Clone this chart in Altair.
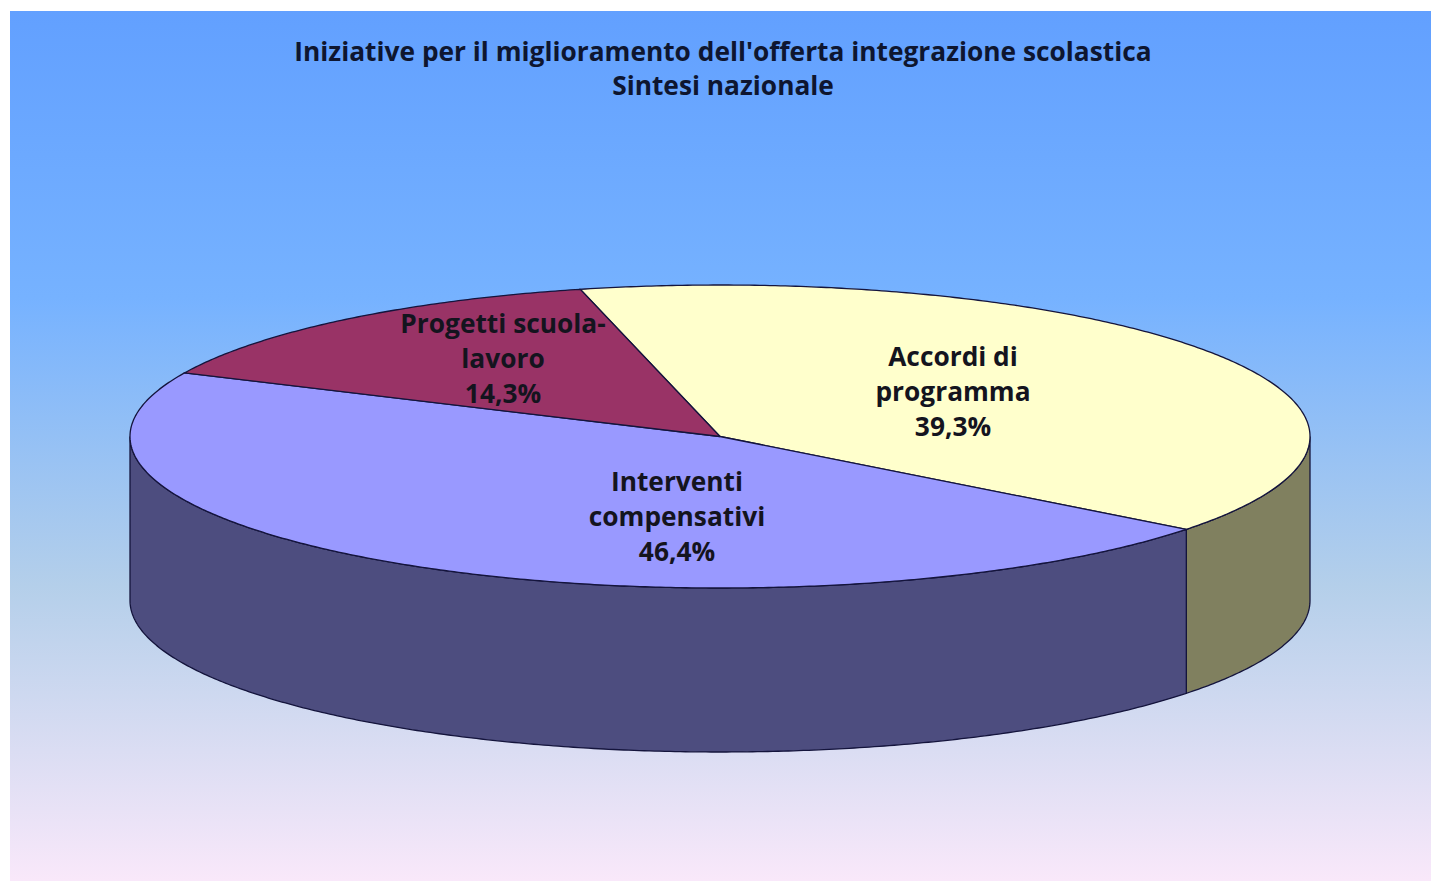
import math
import altair as alt
import pandas as pd

# Survey shares, in percent
categories = ["Accordi di programma", "Interventi compensativi", "Progetti scuola-lavoro"]
shares = [39.3, 46.4, 14.3]
share_labels = ["39,3%", "46,4%", "14,3%"]
label_texts = ["Accordi di\nprogramma\n39,3%", "Interventi\ncompensativi\n46,4%", "Progetti scuola-\nlavoro\n14,3%"]

title_lines = [
    "Iniziative per il miglioramento dell'offerta integrazione scolastica",
    "Sintesi nazionale",
]

# Slice colours: top face and shaded side wall
top_colors = ["#FFFFCC", "#9999FF", "#993366"]
side_colors = ["#80805F", "#4D4D7F", "#4D1A33"]

W, H = 1431, 883
CX, CY = 720, 436.5       # centre of the disc's top face
RX, RY = 590, 151.5       # ellipse radii of the tilted disc
DEPTH = 164               # height of the cylinder wall
START_DEG = 103.7         # where the first slice begins
TEXT_FONT = "Open Sans"
TEXT_SIZE = 26.3

x_scale = alt.Scale(domain=[0, W], range=[0, W], nice=False, zero=False)
y_scale = alt.Scale(domain=[0, H], range=[0, H], nice=False, zero=False)
X = alt.X("x:Q", scale=x_scale, axis=None)
Y = alt.Y("y:Q", scale=y_scale, axis=None)


def rim(t_deg, drop=0.0):
    t = math.radians(t_deg)
    return CX + RX * math.cos(t), CY - RY * math.sin(t) + drop


def arc_points(a, b, drop=0.0):
    n = max(2, int(abs(b - a) * 2))
    return [rim(a + (b - a) * k / n, drop) for k in range(n + 1)]


def polygon(points, fill):
    rows = [{"x": x, "y": y, "i": i} for i, (x, y) in enumerate(points + points[:1])]
    return (
        alt.Chart(pd.DataFrame(rows))
        .mark_line(fill=fill, stroke="#14143C", strokeWidth=1.3, interpolate="linear")
        .encode(x=X, y=Y, order=alt.Order("i:Q"))
    )


# Slice boundaries follow from the shares, clockwise from the start angle
bounds = [START_DEG]
for s in shares:
    bounds.append(bounds[-1] - s / 100 * 360)

layers = []

# Page background with its vertical gradient
panel = pd.DataFrame({"x": [10], "x2": [W], "y": [11], "y2": [881]})
layers.append(
    alt.Chart(panel)
    .mark_rect(
        color=alt.Gradient(
            gradient="linear",
            x1=0, y1=0, x2=0, y2=1,
            stops=[
                alt.GradientStop(color="#62A0FF", offset=0),
                alt.GradientStop(color="#76B2FF", offset=0.33),
                alt.GradientStop(color="#B4CFEA", offset=0.66),
                alt.GradientStop(color="#F9E8FA", offset=1),
            ],
        )
    )
    .encode(x=X, x2="x2:Q", y=Y, y2="y2:Q")
)

# Visible side walls: only the front half of the rim (angles 0 to -180)
for i in range(len(shares)):
    hi = min(bounds[i], 0)
    lo = max(bounds[i + 1], -180)
    if hi > lo:
        layers.append(polygon(arc_points(hi, lo) + arc_points(lo, hi, DEPTH), side_colors[i]))

# Top faces
for i in range(len(shares)):
    layers.append(polygon([(CX, CY)] + arc_points(bounds[i], bounds[i + 1]), top_colors[i]))

# Slice labels, anchored on their first line
labels = pd.DataFrame({
    "x": [953, 677, 503],
    "y": [358, 483, 325],
    "text": label_texts,
})
layers.append(
    alt.Chart(labels)
    .mark_text(
        font=TEXT_FONT, fontWeight="bold", fontSize=TEXT_SIZE, color="#14141E",
        lineBreak="\n", lineHeight=35, align="center", baseline="middle",
    )
    .encode(x=X, y=Y, text="text:N")
)

# Two-line heading
heading = pd.DataFrame({"x": [723, 723], "y": [53, 87], "text": title_lines})
layers.append(
    alt.Chart(heading)
    .mark_text(
        font=TEXT_FONT, fontWeight="bold", fontSize=TEXT_SIZE, color="#0E1630",
        align="center", baseline="middle",
    )
    .encode(x=X, y=Y, text="text:N")
)

chart = (
    alt.layer(*layers)
    .properties(width=W, height=H, padding=0, background="white",
                autosize=alt.AutoSizeParams(type="none"))
    .configure_view(stroke=None)
)

chart.save("out.html", embed_options={"renderer": "svg", "actions": False})
